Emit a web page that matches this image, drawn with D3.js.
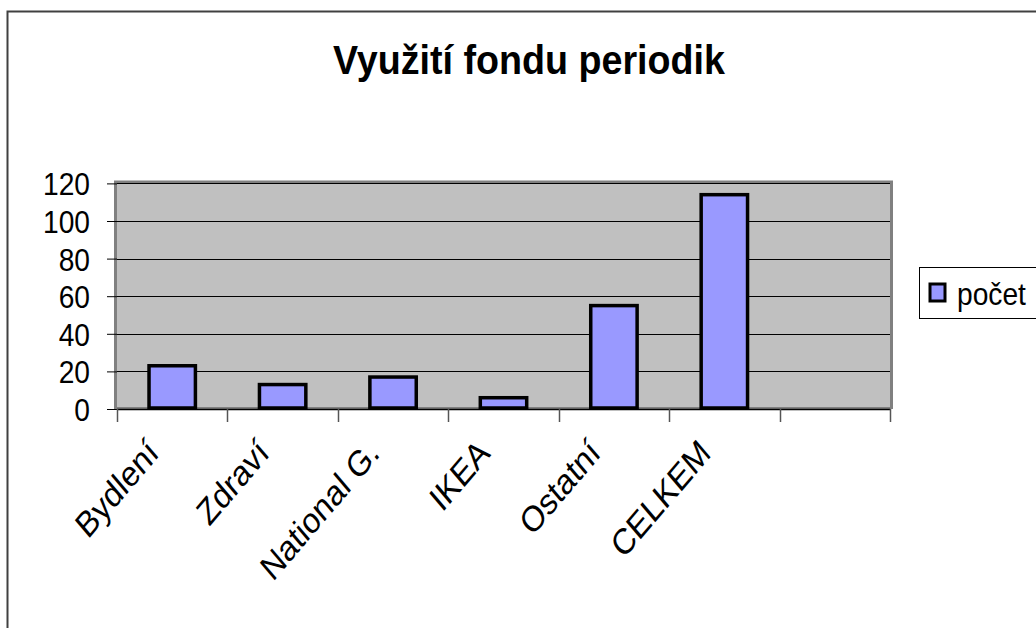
<!DOCTYPE html>
<html>
<head>
<meta charset="utf-8">
<script src="https://cdn.jsdelivr.net/npm/d3@7"></script>
<style>
	body { margin: 0; background: #fff; }
	svg { display: block; font-family: Arial, "Liberation Sans", sans-serif; }
</style>
</head>
<body>
<div id="graf"></div>
<script>
// Données du graphique
const titre = "Využití fondu periodik";
const rubriques = ["Bydlení", "Zdraví", "National G.", "IKEA", "Ostatní", "CELKEM"];
const pocet = [23, 13, 17, 6, 55, 114];
const serie = "počet";
const graduations = [0, 20, 40, 60, 80, 100, 120];

const width = 1036, height = 628;

// Zone du graphique (plot area)
const gauche = 117, droite = 890, haut = 183.4, bas = 409;
// Le texte de l'original est un peu étroit : on le compresse en largeur
const etroit = 0.88;

const svg = d3.select("#graf")
	.append("svg")
	.attr("width", width)
	.attr("height", height);

// Cadre extérieur
svg.append("path")
	.attr("d", "M7.5," + height + " V11.5 H" + width)
	.style("fill", "none")
	.style("stroke", "#404040")
	.style("stroke-width", 2);

// Titre
svg.append("text")
	.attr("x", 529)
	.attr("y", 74)
	.attr("text-anchor", "middle")
	.attr("textLength", 392)
	.attr("lengthAdjust", "spacingAndGlyphs")
	.style("font-size", "40px")
	.style("font-weight", "bold")
	.text(titre);

// Echelles : 7 emplacements, le dernier reste vide
const x = d3.scaleBand()
	.domain(rubriques.concat([""]))
	.range([gauche, droite])
	.paddingInner(0.58)
	.paddingOuter(0.29);

const y = d3.scaleLinear()
	.domain([0, 120])
	.range([bas, haut]);

// Fond gris de la zone
svg.append("rect")
	.attr("x", gauche)
	.attr("y", haut)
	.attr("width", droite - gauche)
	.attr("height", bas - haut)
	.style("fill", "#c0c0c0");

// Bordure grise (gauche, haut, droite)
svg.append("path")
	.attr("d", "M" + (gauche - 1.5) + "," + bas + " V" + (haut - 1.5) + " H" + (droite + 1.5) + " V" + bas)
	.style("fill", "none")
	.style("stroke", "#808080")
	.style("stroke-width", 3);

// Axe Y avec lignes de quadrillage
const axeY = svg.append("g")
	.attr("transform", "translate(" + gauche + ",0)")
	.call(d3.axisLeft(y)
		.tickValues(graduations)
		.tickSize(10));

axeY.select(".domain").remove();
axeY.selectAll("line").style("stroke", "#000");
axeY.selectAll("text")
	.attr("x", -27 / etroit)
	.attr("transform", "scale(" + etroit + ",1)")
	.style("font-size", "32px")
	.style("fill", "#000")
	.attr("dy", "0.36em");

svg.append("g")
	.selectAll("line")
	.data(graduations.filter(d => d > 0))
	.enter()
	.append("line")
	.attr("x1", gauche)
	.attr("x2", droite)
	.attr("y1", d => Math.round(y(d)) + 0.5)
	.attr("y2", d => Math.round(y(d)) + 0.5)
	.style("stroke", "#000")
	.style("stroke-width", 1);

// Bande grise du bas
svg.append("rect")
	.attr("x", gauche)
	.attr("y", bas - 2)
	.attr("width", droite - gauche)
	.attr("height", 2)
	.style("fill", "#808080");

// Barres
svg.append("g")
	.selectAll("rect")
	.data(pocet)
	.enter()
	.append("rect")
	.attr("x", (d, i) => x(rubriques[i]))
	.attr("y", d => y(d))
	.attr("width", x.bandwidth())
	.attr("height", d => y(0) - y(d) - 1)
	.style("fill", "#9999ff")
	.style("stroke", "#000")
	.style("stroke-width", 3.5);

// Axe X : ligne et graduations entre les catégories
svg.append("line")
	.attr("x1", gauche)
	.attr("x2", droite)
	.attr("y1", bas + 0.5)
	.attr("y2", bas + 0.5)
	.style("stroke", "#000")
	.style("stroke-width", 1.5);

const bornes = d3.range(x.domain().length + 1).map(i => gauche + i * x.step());

svg.append("g")
	.selectAll("line")
	.data(bornes)
	.enter()
	.append("line")
	.attr("x1", d => Math.round(d) + 0.5)
	.attr("x2", d => Math.round(d) + 0.5)
	.attr("y1", bas)
	.attr("y2", bas + 13)
	.style("stroke", "#555")
	.style("stroke-width", 1.5);

// Libellés inclinés
svg.append("g")
	.selectAll("text")
	.data(rubriques)
	.enter()
	.append("text")
	.attr("transform", d => "translate(" + (x(d) + x.bandwidth() / 2 - 12) + ",455) scale(0.85,1) rotate(-45)")
	.attr("text-anchor", "end")
	.style("font-size", "36px")
	.text(d => d);

// Légende
const legende = svg.append("g");

legende.append("rect")
	.attr("x", 919.5)
	.attr("y", 267.5)
	.attr("width", 130)
	.attr("height", 51)
	.style("fill", "#fff")
	.style("stroke", "#000")
	.style("stroke-width", 1);

legende.append("rect")
	.attr("x", 930)
	.attr("y", 284)
	.attr("width", 15)
	.attr("height", 17)
	.style("fill", "#9999ff")
	.style("stroke", "#000")
	.style("stroke-width", 3);

legende.append("text")
	.attr("transform", "translate(957,305) scale(" + etroit + ",1)")
	.style("font-size", "32px")
	.text(serie);
</script>
</body>
</html>
